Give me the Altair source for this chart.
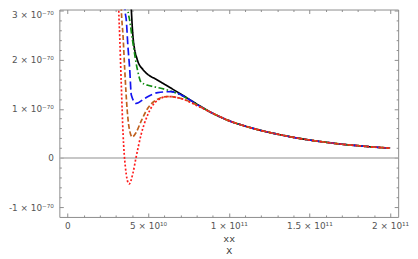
import altair as alt
import pandas as pd

# x in units of 1e9, y in units of 1e-70
names = ["1_black", "2_green", "3_blue", "4_brown", "5_red"]
colors = ["#000000", "#128c12", "#1414f0", "#c0601e", "#ff1a1a"]
dashes = [[1, 0], [6, 2.5, 1.5, 2.5], [8, 3.5], [5, 2.5], [2, 2]]

tail_x = [90, 100, 110, 120, 130, 140, 150, 160, 170, 180, 190, 200]
tail_y = [0.91, 0.76, 0.65, 0.56, 0.485, 0.42, 0.365, 0.32, 0.28, 0.25, 0.222, 0.20]

black_x = [39.0, 39.6, 40.6, 43.3, 46.8, 49.8, 55.0, 60.1, 70.3, 80.6]
black_y = [3.4, 3.02, 2.48, 2.0, 1.80, 1.70, 1.60, 1.50, 1.30, 1.09]
green_x = [36.8, 37.5, 38.6, 40.6, 43.3, 45.7, 49.8, 55.0, 60.1, 70.3, 80.6]
green_y = [3.4, 3.02, 2.80, 2.34, 1.81, 1.54, 1.48, 1.44, 1.40, 1.28, 1.08]
blue_x = [35.2, 35.7, 36.5, 37.5, 38.6, 39.6, 42.6, 47.8, 56.0, 64.2, 72.4, 80.6]
blue_y = [3.4, 3.02, 2.80, 2.27, 1.81, 1.28, 1.11, 1.21, 1.33, 1.35, 1.25, 1.08]
brown_x = [33.0, 33.4, 34.5, 35.5, 37.1, 38.6, 40.2, 42.6, 45.7, 49.8, 55.0, 62.2, 70.3, 80.6]
brown_y = [3.4, 3.02, 2.47, 1.81, 0.95, 0.55, 0.43, 0.52, 0.75, 1.01, 1.18, 1.25, 1.21, 1.07]
red_x = [31.5, 31.8, 32.4, 33.4, 34.5, 35.9, 38.2, 40.6, 42.6, 45.7, 49.8, 55.0, 62.2, 70.3, 80.6]
red_y = [3.4, 3.02, 2.48, 1.48, 0.485, -0.18, -0.53, -0.31, 0.02, 0.48, 0.88, 1.15, 1.25, 1.21, 1.06]

x_major = [0, 5e10, 1e11, 1.5e11, 2e11]
x_minor = [i * 1e10 for i in range(0, 21) if i % 5 != 0]
y_major = [-1e-70, 0, 1e-70, 2e-70, 3e-70]
y_minor = [k * 0.2e-70 for k in range(-5, 16) if k % 5 != 0]

rows = []
for name, xs, ys in zip(names,
                        [black_x, green_x, blue_x, brown_x, red_x],
                        [black_y, green_y, blue_y, brown_y, red_y]):
    for xv, yv in zip(xs + tail_x, ys + tail_y):
        rows.append({"x": xv * 1e9, "y": yv * 1e-70, "series": name})
df = pd.DataFrame(rows)
zero_df = pd.DataFrame({"y": [0.0]})

xscale = alt.Scale(domain=[-5e9, 2.05e11], nice=False, zero=False)
yscale = alt.Scale(domain=[-1.2e-70, 3.02e-70], nice=False, zero=False)

FRAME = "#8c8c8c"
LAB = "#555555"

def ax(orient, values, size, labels=False, **kw):
    return alt.Axis(orient=orient, values=values, tickSize={"expr": str(-size)},
                    tickColor=FRAME, tickWidth=1, domain=False, grid=False,
                    labels=labels, **kw)

x_lab = ("datum.value == 0 ? '0' : (round(datum.value / 1e10) == 5 ? '5 \u00d7 10\u00b9\u2070' : "
         "format(datum.value / 1e11, '~g') + ' \u00d7 10\u00b9\u00b9')")
y_lab = ("datum.value == 0 ? '0' : ('' + round(datum.value * 1e70)) + ' \u00d7 10\u207b\u2077\u2070'")

bottom_major = ax("bottom", x_major, 4, labels=True, labelExpr=x_lab, labelPadding=9,
                  labelFont="DejaVu Sans", labelFontSize=9, labelColor=LAB,
                  title=["xx", "X"], titleFont="Liberation Mono", titleFontSize=10,
                  titleFontWeight="normal", titleColor="#333333", titlePadding=3)
left_major = ax("left", y_major, 4, labels=True, labelExpr=y_lab, labelPadding=10,
                labelFont="DejaVu Sans", labelFontSize=9, labelColor=LAB, title=None,
                labelFlush=5)

zero = alt.Chart(zero_df).mark_rule(color="#b4b4b4", strokeWidth=1.5).encode(
    y=alt.Y("y:Q", scale=yscale, axis=None)
)

lines = alt.Chart(df).mark_line(clip=True, interpolate="monotone", strokeWidth=1.7).encode(
    x=alt.X("x:Q", scale=xscale, axis=bottom_major),
    y=alt.Y("y:Q", scale=yscale, axis=left_major),
    color=alt.Color("series:N", scale=alt.Scale(domain=names, range=colors), legend=None),
    strokeDash=alt.StrokeDash("series:N", scale=alt.Scale(domain=names, range=dashes), legend=None),
)

def axis_layer(xaxis, yaxis):
    return alt.Chart(zero_df).mark_point(opacity=0).encode(
        x=alt.X("y:Q", scale=xscale, axis=xaxis),
        y=alt.Y("y:Q", scale=yscale, axis=yaxis),
    )

minor_lb = axis_layer(ax("bottom", x_minor, 2, title=None), ax("left", y_minor, 2, title=None))
major_tr = axis_layer(ax("top", x_major, 4, title=None), ax("right", y_major, 4, title=None))
minor_tr = axis_layer(ax("top", x_minor, 2, title=None), ax("right", y_minor, 2, title=None))

chart = alt.layer(zero, lines, minor_lb, major_tr, minor_tr).resolve_axis(
    x="independent", y="independent"
).properties(
    width=343, height=210,
    autosize=alt.AutoSizeParams(type="none"),
    padding={"left": 52, "top": 0, "right": 12, "bottom": 40},
    background="white",
).configure_view(stroke=FRAME, strokeWidth=1)

chart.save("out.html", embed_options={"renderer": "svg", "actions": False})
